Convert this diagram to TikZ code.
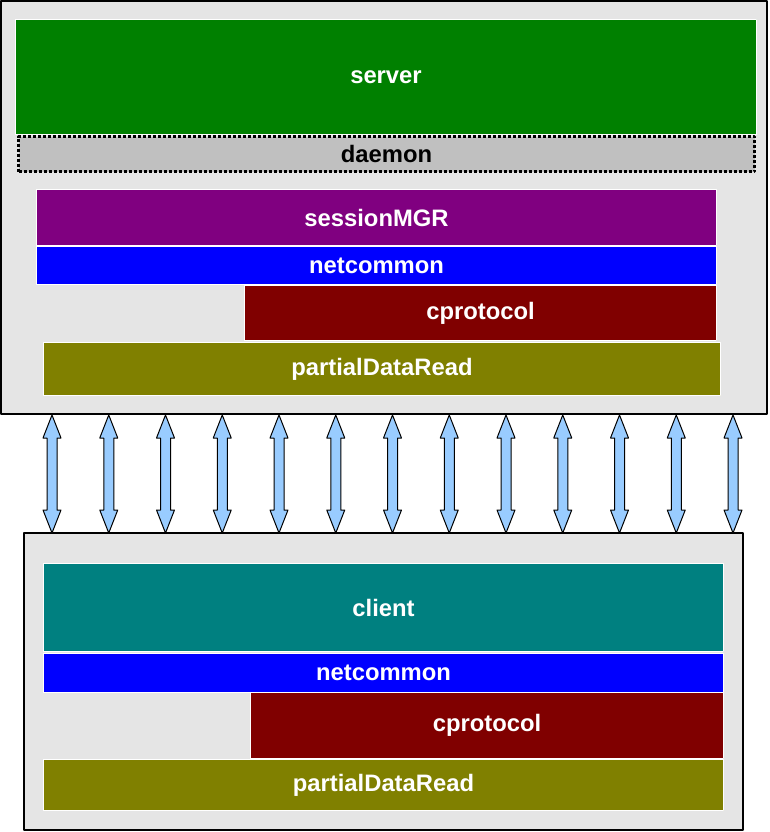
\documentclass[tikz,border=0pt]{standalone}
\usepackage{fontspec}
\setmainfont{Liberation Sans}
\usetikzlibrary{calc}
\definecolor{srvgreen}{RGB}{0,128,0}
\definecolor{mgrpurple}{RGB}{128,0,128}
\definecolor{netblue}{RGB}{0,0,255}
\definecolor{protored}{RGB}{128,0,0}
\definecolor{readolive}{RGB}{128,128,0}
\definecolor{clientteal}{RGB}{0,128,128}
\definecolor{daemongray}{RGB}{192,192,192}
\definecolor{hostgray}{RGB}{229,229,229}
\definecolor{linkblue}{RGB}{153,204,255}

\begin{document}
\begin{tikzpicture}[x=1pt,y=-1pt,line join=round,
  layer/.style={draw=white,line width=1pt,inner sep=0pt,anchor=north west,text=white,font=\bfseries\fontsize{23.8}{25}\selectfont},
  hostbox/.style={draw=black,fill=hostgray,line width=2pt},
  link/.style={draw=black,fill=linkblue,line width=1pt}]
\useasboundingbox (0,0) rectangle (769,832);
\draw[hostbox] (1,1) rectangle (767,414);
\draw[hostbox] (24,533) rectangle (743,830);
% server side
\node[layer,fill=srvgreen,minimum width=741pt,minimum height=115pt] (server) at (15,19) {server};
\node[layer,draw=black,line width=3pt,dash pattern=on 3pt off 2pt,fill=daemongray,text=black,minimum width=736pt,minimum height=35pt] (daemon) at (17,135) {daemon};
\node[layer,fill=mgrpurple,minimum width=680pt,minimum height=56pt] (smgr) at (36,189) {sessionMGR};
\node[layer,fill=netblue,minimum width=680pt,minimum height=38pt] (snet) at (36,246) {netcommon};
\node[layer,fill=protored,minimum width=472pt,minimum height=55pt] (sproto) at (244,285) {cprotocol};
\node[layer,fill=readolive,minimum width=677pt,minimum height=53pt] (sread) at (43,342) {partialDataRead};
% client side
\node[layer,fill=clientteal,minimum width=680pt,minimum height=88pt] (client) at (43,563) {client};
\node[layer,fill=netblue,minimum width=680pt,minimum height=39pt] (cnet) at (43,653) {netcommon};
\node[layer,fill=protored,minimum width=473pt,minimum height=66pt] (cproto) at (250,692) {cprotocol};
\node[layer,fill=readolive,minimum width=680pt,minimum height=51pt] (cread) at (43,759) {partialDataRead};
% links
\foreach \i in {0,...,12}{
  \coordinate (t\i) at ({52+56.75*\i},415);
  \coordinate (b\i) at ({52+56.75*\i},533);
  \draw[link] (t\i) -- ++(9,23) -- ++(-4,0) -- ($(b\i)+(5,-23)$) -- ++(4,0) -- (b\i)
    -- ++(-9,-23) -- ++(4,0) -- ($(t\i)+(-5,23)$) -- ++(-4,0) -- cycle;}
\end{tikzpicture}
\end{document}
